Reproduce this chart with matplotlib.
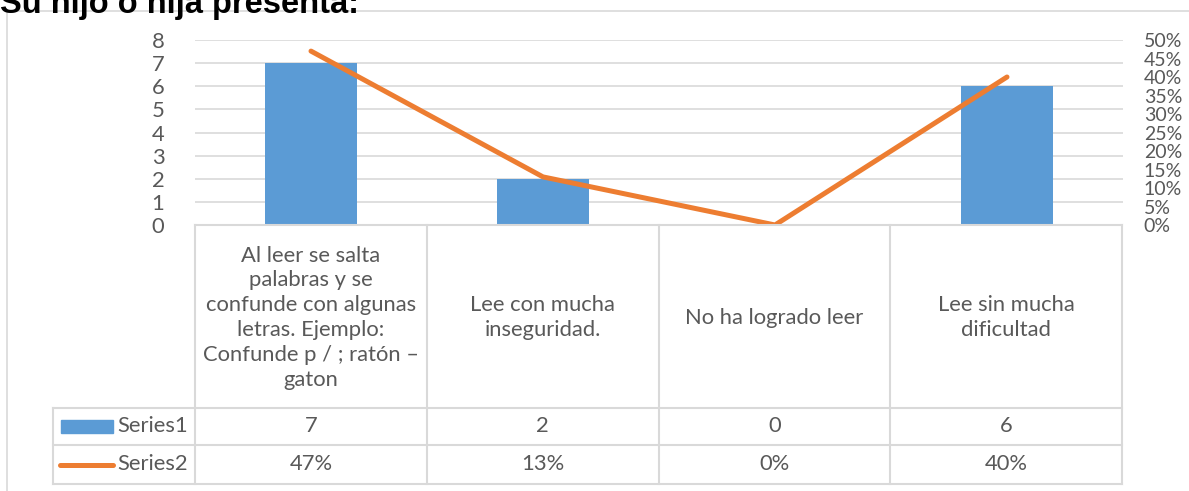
import matplotlib
matplotlib.use("Agg")
import matplotlib.pyplot as plt
from matplotlib.lines import Line2D
from matplotlib.patches import Rectangle
import numpy as np

W, H = 1189, 491
title = "Su hijo o hija presenta:"
categories = [
    "Al leer se salta\npalabras y se\nconfunde con algunas\nletras. Ejemplo:\nConfunde p / ; ratón –\ngaton",
    "Lee con mucha\ninseguridad.",
    "No ha logrado leer",
    "Lee sin mucha\ndificultad",
]
series1 = [7, 2, 0, 6]
series2 = [0.47, 0.13, 0.0, 0.40]
series_names = ["Series1", "Series2"]
left_ticks = list(range(0, 9))
right_ticks = [i / 100 for i in range(0, 55, 5)]

BLUE = "#5B9BD5"
ORANGE = "#ED7D31"
GRID = "#D9D9D9"
TXT = "#595959"
FONT = "Lato"
FS = 15.8

plt.rcParams["font.family"] = [FONT, "DejaVu Sans"]

fig = plt.figure(figsize=(W / 100, H / 100), dpi=100)

def fx(x):
    return x / W

def fy(y):
    return 1 - y / H

# outer chart border (top and left)
fig.add_artist(Line2D([fx(7), fx(7)], [fy(11), fy(495)], color=GRID, lw=1.2))
fig.add_artist(Line2D([fx(7), fx(1195)], [fy(11), fy(11)], color=GRID, lw=1.2))

# title (cut at top, as in the reference)
fig.text(fx(0), fy(13), title, fontsize=23.5, fontweight="bold",
         family="Liberation Sans", color="black", va="baseline", ha="left")

PL, PR, PT, PB = 195, 1123, 40, 225
ax = fig.add_axes([fx(PL), fy(PB), (PR - PL) / W, (PB - PT) / H])
x = np.arange(len(categories))
ax.bar(x, series1, width=0.4, color=BLUE, zorder=3)
ax.set_xlim(-0.5, len(categories) - 0.5)
ax.set_ylim(0, 8)
ax.set_yticks(left_ticks)
ax.set_yticklabels([str(t) for t in left_ticks])
ax.yaxis.grid(True, color=GRID, lw=1.2, zorder=0)
ax.set_xticks([])
for s in ax.spines.values():
    s.set_visible(False)
ax.tick_params(axis="y", length=0, pad=22, labelsize=FS, labelcolor=TXT)
ax.set_facecolor("none")

ax2 = ax.twinx()
ax2.plot(x, series2, color=ORANGE, lw=3.6, solid_capstyle="round", zorder=4)
ax2.set_ylim(0, 0.5)
ax2.set_yticks(right_ticks)
ax2.set_yticklabels([f"{int(round(t*100))}%" for t in right_ticks])
for s in ax2.spines.values():
    s.set_visible(False)
ax2.tick_params(axis="y", length=0, pad=15, labelsize=14, labelcolor=TXT)

# data table
ncol = len(categories)
colw = (PR - 1 - PL) / ncol
col_edges = [PL + i * colw for i in range(ncol + 1)]
HL = 53
rows_y = [225, 408, 445, 484]

def hline(x0, x1, y):
    fig.add_artist(Line2D([fx(x0), fx(x1)], [fy(y), fy(y)], color=GRID, lw=1.5))

def vline(x0, y0, y1):
    fig.add_artist(Line2D([fx(x0), fx(x0)], [fy(y0), fy(y1)], color=GRID, lw=1.5))

hline(PL, col_edges[-1], rows_y[0])
for yy in rows_y[1:]:
    hline(HL, col_edges[-1], yy)
for xe in col_edges:
    vline(xe, rows_y[0], rows_y[-1])
vline(HL, rows_y[1], rows_y[-1])

for i, lab in enumerate(categories):
    cx = (col_edges[i] + col_edges[i + 1]) / 2
    fig.text(fx(cx), fy((rows_y[0] + rows_y[1]) / 2 + 1), lab, ha="center", va="center",
             fontsize=FS, color=TXT, linespacing=1.3, multialignment="center")
    fig.text(fx(cx), fy((rows_y[1] + rows_y[2]) / 2), str(series1[i]), ha="center",
             va="center", fontsize=FS, color=TXT)
    fig.text(fx(cx), fy((rows_y[2] + rows_y[3]) / 2), f"{int(round(series2[i]*100))}%",
             ha="center", va="center", fontsize=FS, color=TXT)

# legend keys in table
y1 = (rows_y[1] + rows_y[2]) / 2
y2 = (rows_y[2] + rows_y[3]) / 2
fig.add_artist(Rectangle((fx(61), fy(y1 + 6)), (113 - 61) / W, 13 / H, color=BLUE,
                         transform=fig.transFigure))
fig.add_artist(Line2D([fx(60), fx(113)], [fy(y2), fy(y2)], color=ORANGE, lw=3.6,
                      solid_capstyle="round"))
fig.text(fx(117), fy(y1), series_names[0], ha="left", va="center", fontsize=FS, color=TXT)
fig.text(fx(117), fy(y2), series_names[1], ha="left", va="center", fontsize=FS, color=TXT)

fig.savefig("out.png", dpi=100)
